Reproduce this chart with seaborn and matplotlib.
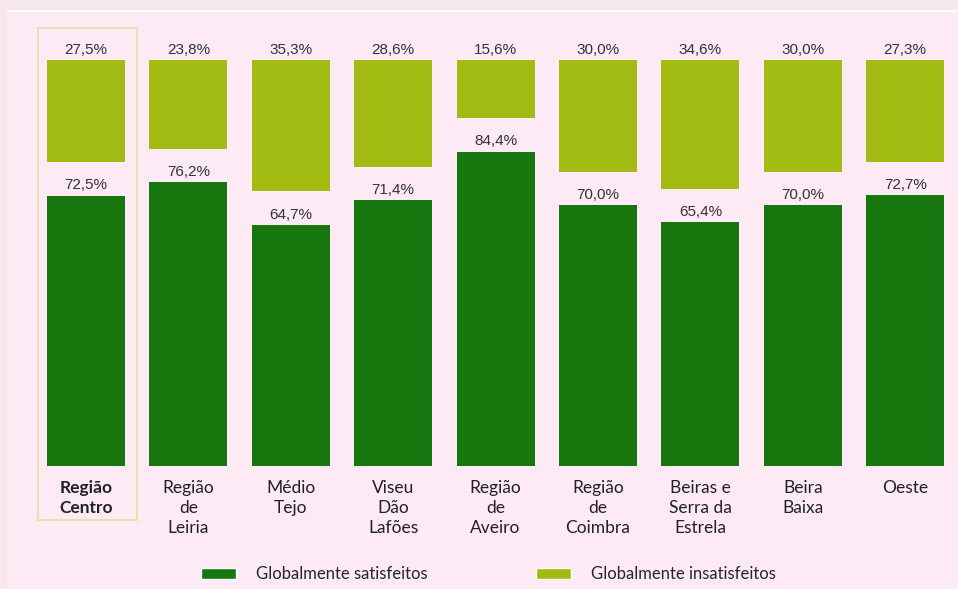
import matplotlib
matplotlib.use("Agg")
import matplotlib.pyplot as plt
from matplotlib.patches import Rectangle, Patch
from matplotlib.lines import Line2D
import seaborn as sns
import pandas as pd

# Satisfaction by sub-region (percent)
regions = ["Região\nCentro", "Região\nde\nLeiria", "Médio\nTejo", "Viseu\nDão\nLafões",
           "Região\nde\nAveiro", "Região\nde\nCoimbra", "Beiras e\nSerra da\nEstrela",
           "Beira\nBaixa", "Oeste"]
satisfied = [72.5, 76.2, 64.7, 71.4, 84.4, 70.0, 65.4, 70.0, 72.7]
unsatisfied = [27.5, 23.8, 35.3, 28.6, 15.6, 30.0, 34.6, 30.0, 27.3]

DARK = "#18760f"
LIGHT = "#a1bb12"
INNER_BG = "#fdeaf4"
OUTER_BG = "#f7e8ee"
TXT = "#333333"
SPAN = 109  # 100% plus the gap between the two blocks

df = pd.DataFrame({"region": regions, "sat": satisfied, "unsat": unsatisfied})

sns.set_theme(style="white")
plt.rcParams["font.family"] = ["Liberation Sans", "DejaVu Sans"]

W, H = 958, 589
fig = plt.figure(figsize=(W / 100, H / 100), dpi=100, facecolor=OUTER_BG)
top = (H - 11) / H
fig.patches.append(Rectangle((7 / W, -0.05), 1.1, top + 0.05, transform=fig.transFigure,
                             facecolor=INNER_BG, edgecolor="none", zorder=-10))
fig.lines.append(Line2D([7 / W, 1], [top, top], transform=fig.transFigure,
                        color="white", linewidth=1.2, zorder=-9))

ax = fig.add_axes([34.8 / W, (H - 466) / H, 921.6 / W, 406 / H])
ax.set_facecolor("none")
sns.barplot(data=df, x="region", y="sat", color=DARK, saturation=1, width=0.76,
            ax=ax, linewidth=0)
ax.set_ylim(0, SPAN)
ax.set_xlim(-0.5, len(regions) - 0.5)

# Dissatisfied blocks hang from the top on an inverted twin axis
ax2 = ax.twinx()
sns.barplot(data=df, x="region", y="unsat", color=LIGHT, saturation=1, width=0.76,
            ax=ax2, linewidth=0)
ax2.set_ylim(SPAN, 0)
ax2.set_xlim(-0.5, len(regions) - 0.5)

def fmt(v):
    return f"{v:.1f}".replace(".", ",") + "%"

for i, (s, u) in enumerate(zip(satisfied, unsatisfied)):
    ax.annotate(fmt(s), (i, s), xytext=(0, 2.5), textcoords="offset points",
                ha="center", va="bottom", fontsize=11, color=TXT)
    ax2.annotate(fmt(u), (i, 0), xytext=(0, 2.5), textcoords="offset points",
                 ha="center", va="bottom", fontsize=11, color=TXT, annotation_clip=False)

for a in (ax, ax2):
    for sp in a.spines.values():
        sp.set_visible(False)
    a.set_yticks([])
    a.set_ylabel("")
    a.set_xlabel("")
ax2.set_xticks([])

ax.set_xticks(range(len(regions)))
ax.set_xticklabels(regions, fontsize=12.5, color="#222222", linespacing=1.3,
                   family=["Lato", "DejaVu Sans"])
ax.tick_params(axis="x", length=0, pad=10)
ax.get_xticklabels()[0].set_fontweight("bold")

# Highlight frame around the whole-region column
ax.add_patch(Rectangle((-0.47, -14.5), 0.968, 132.1, fill=False, edgecolor="#e4dfa2",
                       linewidth=1.2, clip_on=False, zorder=0))

handles = [Patch(facecolor=DARK, label="Globalmente satisfeitos"),
           Patch(facecolor=LIGHT, label="Globalmente insatisfeitos")]
fig.legend(handles=handles, loc="center", bbox_to_anchor=(0.510, 1 - 574 / H), ncol=2,
           frameon=False, handlelength=2.1, handleheight=0.65, columnspacing=6.5,
           handletextpad=1.2, prop={"family": ["Lato", "DejaVu Sans"], "size": 12})

fig.savefig("out.png", dpi=100, facecolor=OUTER_BG)
